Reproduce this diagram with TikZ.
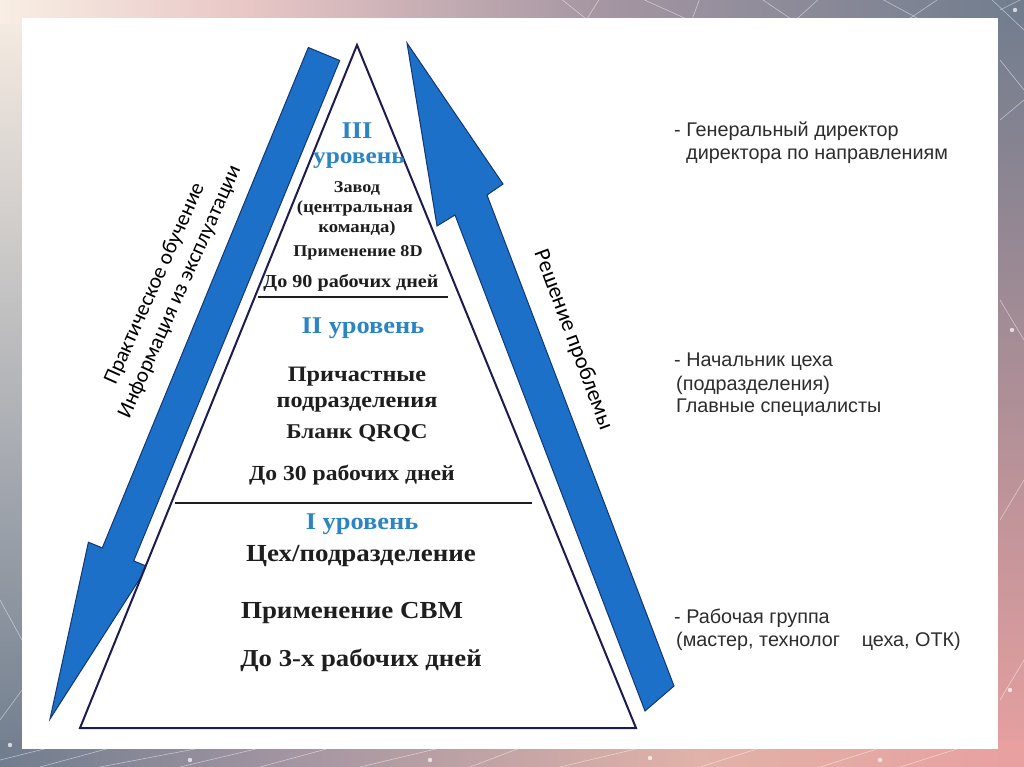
\documentclass[tikz,border=0pt]{standalone}
\usepackage{fontspec}
\usetikzlibrary{shadings}
\setmainfont{Liberation Serif}
\newfontfamily\arialf{Liberation Sans}
\newfontfamily\calibf{Carlito}
\newcommand{\sx}[1]{\scalebox{1.1}[1]{#1}}
\definecolor{lvl}{RGB}{45,132,195}
\definecolor{arrowblue}{RGB}{28,112,200}
\definecolor{arrowedge}{RGB}{18,55,115}
\definecolor{tri}{RGB}{28,28,80}
\definecolor{txt}{RGB}{30,30,30}
\definecolor{side}{RGB}{45,45,45}
\definecolor{bgCream}{RGB}{248,238,228}
\definecolor{bgPink}{RGB}{232,198,198}
\definecolor{bgMauve}{RGB}{165,150,162}
\definecolor{bgGray}{RGB}{112,125,142}
\definecolor{bgPeach}{RGB}{225,178,168}
\definecolor{bgRose}{RGB}{232,160,160}
\tikzset{
  lvltext/.style={font=\bfseries\fontsize{#1}{#1}\selectfont, text=lvl, inner sep=0pt},
  bodytext/.style={font=\bfseries\fontsize{#1}{#1}\selectfont, text=txt, inner sep=0pt},
  sidetext/.style={font=\arialf\fontsize{19.8}{19.8}\selectfont, text=side, anchor=west, inner sep=0pt},
  arrowlabel/.style={font=\calibf\fontsize{#1}{#1}\selectfont, text=black, inner sep=0pt},
  bigarrow/.style={fill=arrowblue, draw=arrowedge, line width=1pt, line join=miter},
  net/.style={white, opacity=0.5, line width=0.6pt}
}
\begin{document}
\begin{tikzpicture}[x=1pt,y=-1pt]
\useasboundingbox (0,0) rectangle (1024,767);
% background bands
\shade[top color=bgCream, middle color=bgPink, bottom color=bgGray] (0,0) rectangle (30,767);
\shade[top color=bgGray, middle color=bgMauve, bottom color=bgRose] (990,0) rectangle (1024,767);
\shade[left color=bgCream, right color=bgPink] (0,0) rectangle (250.5,24);
\shade[left color=bgPink, right color=bgMauve] (250,0) rectangle (600.5,24);
\shade[left color=bgMauve, right color=bgGray] (600,0) rectangle (1024,24);
\shade[left color=bgGray, right color=bgMauve] (0,740) rectangle (300.5,767);
\shade[left color=bgMauve, right color=bgPeach] (300,740) rectangle (700.5,767);
\shade[left color=bgPeach, right color=bgRose] (700,740) rectangle (1024,767);
% network decoration
\draw[net] (560,-2)--(600,30) (600,-2)--(580,30) (640,-2)--(700,25) (700,-2)--(690,25)
  (760,-2)--(800,25) (820,-2)--(790,25) (880,-2)--(930,25) (940,-2)--(900,25)
  (990,-2)--(1024,30) (1000,10)--(1024,-2) (1000,60)--(1024,90) (1000,120)--(1024,100)
  (1000,300)--(1024,340) (1000,520)--(1024,480) (1000,700)--(1024,660)
  (0,760)--(60,745) (40,767)--(110,748) (100,767)--(200,748) (180,767)--(260,748)
  (260,767)--(330,748) (360,767)--(440,748) (470,767)--(520,748) (560,767)--(640,748)
  (700,767)--(760,748) (820,767)--(880,748) (900,767)--(960,748) (0,720)--(22,690)
  (0,600)--(22,640);
\foreach \p in {(190,760),(430,760),(650,758),(880,760),(1015,10),(1012,330),(1010,690),(10,745)}
  \fill[white, opacity=0.7] \p circle (2.2);
% card
\fill[white] (22,18) rectangle (998,749);
% left arrow (down-left)
\draw[bigarrow] (308.3,47.5) -- (339.7,60.5) -- (133.7,560.9) -- (147.6,566.6)
  -- (50,719) -- (88.4,542.2) -- (102.3,547.9) -- cycle;
% right arrow (up)
\draw[bigarrow] (407,43) -- (503,184) -- (487,195) -- (674,686) -- (645,711)
  -- (455,215) -- (437,226) -- cycle;
% pyramid
\fill[white] (357,45) -- (636,728) -- (80,728) -- cycle;
\draw[tri, line width=2pt, line join=miter] (357,45) -- (636,728) -- (80,728) -- cycle;
\draw[txt, line width=1.2pt] (258,297) -- (448,297);
\draw[txt, line width=1.2pt] (175,503) -- (532,503);
% level III
\node[lvltext=24] (l3a) at (357,131) {\sx{III}};
\node[lvltext=23] (l3b) at (359,161) {\sx{уровень}};
\node[bodytext=16.5] (t3a) at (357,188) {\sx{Завод}};
\node[bodytext=17] (t3b) at (355,208) {\sx{(центральная}};
\node[bodytext=17] (t3c) at (357,228) {\sx{команда)}};
\node[bodytext=16.5] (t3d) at (358,253) {\sx{Применение 8D}};
\node[bodytext=18.3] (t3e) at (351,283) {\sx{До 90 рабочих дней}};
% level II
\node[lvltext=24] (l2) at (363,328) {\sx{II уровень}};
\node[bodytext=22] (t2a) at (357,377) {\sx{Причастные}};
\node[bodytext=22] (t2b) at (357,405) {\sx{подразделения}};
\node[bodytext=21] (t2c) at (357,433) {\sx{Бланк QRQC}};
\node[bodytext=21.5] (t2d) at (352,475) {\sx{До 30 рабочих дней}};
% level I
\node[lvltext=24] (l1) at (362,524) {\sx{I уровень}};
\node[bodytext=24.5] (t1a) at (361,556) {\sx{Цех/подразделение}};
\node[bodytext=24.5] (t1b) at (352,613) {\sx{Применение CBM}};
\node[bodytext=24.3] (t1c) at (361,660) {\sx{До 3-х рабочих дней}};
% arrow labels
\node[arrowlabel=21.5, rotate=66] (la) at (155,284) {Практическое обучение};
\node[arrowlabel=21.5, rotate=66] (lb) at (180,292) {Информация из эксплуатации};
\node[arrowlabel=22.5, rotate=-69.5] (ra) at (573,340) {Решение проблемы};
% side texts
\node[sidetext] (s1a) at (674,131) {- Генеральный директор};
\node[sidetext] (s1b) at (686,156) {директора по направлениям};
\node[sidetext] (s2a) at (674,362) {- Начальник цеха};
\node[sidetext] (s2b) at (676,385) {(подразделения)};
\node[sidetext] (s2c) at (676,408) {Главные специалисты};
\node[sidetext] (s3a) at (674,618) {- Рабочая группа};
\node[sidetext] (s3b) at (676,641) {(мастер, технолог\hspace{1.1em}цеха, ОТК)};
\end{tikzpicture}
\end{document}
